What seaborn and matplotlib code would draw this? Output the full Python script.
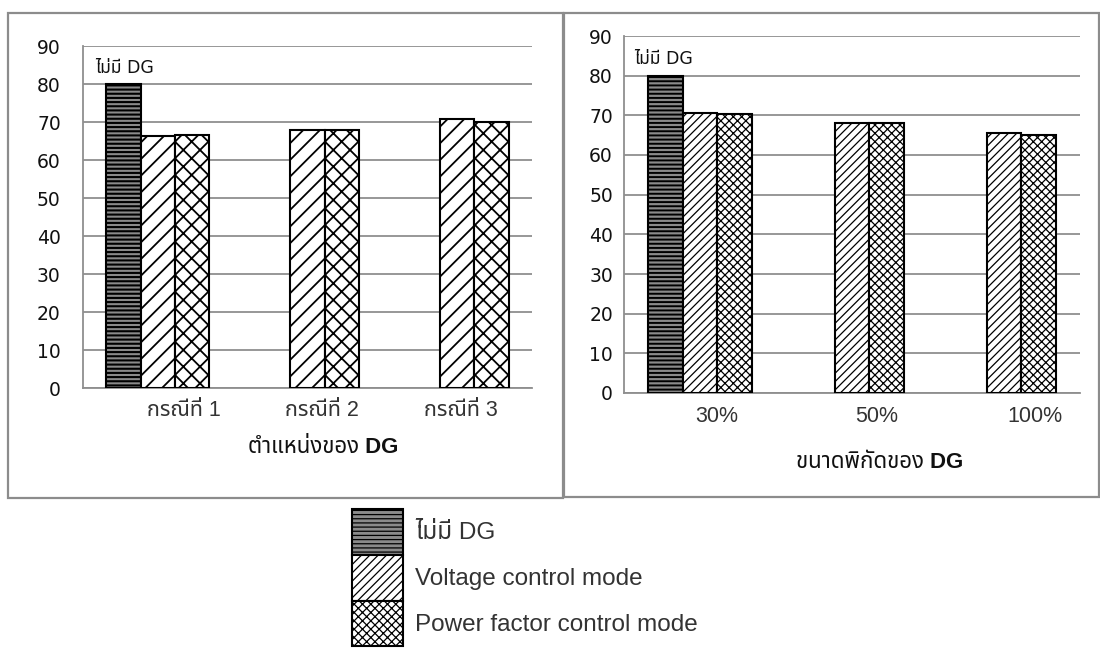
import matplotlib
matplotlib.use("Agg")
import matplotlib.pyplot as plt
import matplotlib.transforms as mtransforms
from matplotlib import font_manager
from matplotlib.patches import Rectangle
import pandas as pd
import seaborn as sns

# ---- data -------------------------------------------------------------
series = ["ไม่มี DG", "Voltage control mode", "Power factor control mode"]

loc_cats = ["กรณีที่ 1", "กรณีที่ 2", "กรณีที่ 3"]
loc_no_dg = [80.0, None, None]
loc_vc = [66.2, 67.8, 70.7]
loc_pf = [66.6, 67.8, 69.9]

size_cats = ["30%", "50%", "100%"]
size_no_dg = [80.0, None, None]
size_vc = [70.7, 68.1, 65.5]
size_pf = [70.3, 68.1, 65.0]

y_ticks = list(range(0, 100, 10))

left_title = "ตำแหน่งของ DG"
right_title = "ขนาดพิกัดของ DG"
note_text = "ไม่มี DG"


def find_thai_family():
    """Return the name of an installed family that covers Thai, if any."""
    try:
        from fontTools.ttLib import TTFont
    except Exception:
        return None
    found = []
    for f in font_manager.fontManager.ttflist:
        try:
            tt = TTFont(f.fname, fontNumber=0, lazy=True)
            cmap = tt.getBestCmap() or {}
            if 0x0E44 in cmap and 0x0E21 in cmap and 0x0E13 in cmap:
                found.append(f.name)
        except Exception:
            continue
    if not found:
        return None
    for pref in ["Noto Sans Thai", "Noto Sans Thai UI", "Loma", "Garuda",
                 "Tlwg Typo", "Sawasdee", "Laksaman", "Norasi"]:
        if pref in found:
            return pref
    return found[0]


def to_frame(cats, no_dg, vc, pf):
    rows = []
    for name, vals in zip(series, [no_dg, vc, pf]):
        for c, v in zip(cats, vals):
            if v is not None:
                rows.append({"cat": c, "series": name, "value": v})
    return pd.DataFrame(rows)


sns.set_style("white")
thai = find_thai_family()
extra = [thai] if thai else []
families = ["Liberation Sans"] + extra + ["DejaVu Sans"]
plt.rcParams["font.family"] = families

fig = plt.figure(figsize=(11, 6.48), dpi=100)
W, H = 1100, 648


def fig_rect(x0, y0, x1, y1):
    return [x0 / W, 1 - y1 / H, (x1 - x0) / W, (y1 - y0) / H]


# frames around each chart
frame_col = "#8c8c8c"
fig.add_artist(Rectangle((8 / W, 1 - 498 / H), (563 - 8) / W, (498 - 13) / H,
                         transform=fig.transFigure, fill=False,
                         edgecolor=frame_col, linewidth=1.6))
fig.add_artist(Rectangle((564 / W, 1 - 497 / H), (1099 - 564) / W, (497 - 13) / H,
                         transform=fig.transFigure, fill=False,
                         edgecolor=frame_col, linewidth=1.6))

ax_l = fig.add_axes(fig_rect(83, 46, 532, 388))
ax_r = fig.add_axes(fig_rect(624, 36, 1080, 393))

styles_left = [("#8a8a8a", "----", 1.5), ("white", "//", 1.3), ("white", "xx", 1.3)]
styles_right = [("#8a8a8a", "----", 1.4), ("white", "////", 0.9), ("white", "xxxx", 0.9)]

grid_col = "#8f8f8f"


def draw_panel(ax, df, cats, styles, title, ytick_pad, tick_shifts, label_xy,
               note_xy):
    plt.rcParams["hatch.linewidth"] = styles[1][2]
    sns.barplot(data=df, x="cat", y="value", hue="series", order=cats,
                hue_order=series, width=0.69, errorbar=None, ax=ax,
                legend=False, saturation=1)
    for cont, (fc, hatch, hlw) in zip(ax.containers, styles):
        for p in cont.patches:
            p.set_facecolor(fc)
            p.set_edgecolor("black")
            p.set_hatch(hatch)
            p.set_linewidth(1.5)
            if hasattr(p, "set_hatch_linewidth"):
                p.set_hatch_linewidth(hlw)
            p.set_zorder(3)
    ax.set_ylim(0, 90)
    ax.set_xlim(-0.5, 2.5)
    ax.set_yticks(y_ticks)
    ax.yaxis.grid(True, color=grid_col, linewidth=1.3, zorder=0)
    ax.set_axisbelow(True)
    for s in ["top", "right"]:
        ax.spines[s].set_visible(False)
    for s in ["left", "bottom"]:
        ax.spines[s].set_color(grid_col)
        ax.spines[s].set_linewidth(1.3)
    ax.tick_params(axis="y", length=0, pad=ytick_pad, labelsize=13.5,
                   labelcolor="#111111")
    for lbl in ax.get_yticklabels():
        lbl.set_fontfamily("DejaVu Sans")
    ax.tick_params(axis="x", length=0, pad=9, labelsize=15.5, labelcolor="#333333")
    ax.set_xticks(range(len(cats)))
    ax.set_xticklabels(cats)
    for lbl, dx in zip(ax.get_xticklabels(), tick_shifts):
        shift = mtransforms.ScaledTranslation(dx / 100, 0, fig.dpi_scale_trans)
        lbl.set_transform(lbl.get_transform() + shift)
    ax.set_ylabel("")
    ax.set_xlabel(title, fontsize=16, fontweight="bold", color="#111111")
    ax.xaxis.set_label_coords(*label_xy)
    ax.xaxis.label.set_va("center")
    ax.text(note_xy[0], note_xy[1], note_text, fontsize=12.5, ha="left",
            va="center", color="#111111", family=["DejaVu Sans"] + extra)
    ax.set_facecolor("white")


draw_panel(ax_l, to_frame(loc_cats, loc_no_dg, loc_vc, loc_pf), loc_cats,
           styles_left, left_title, 16, (26, 14, 4), (0.535, -0.175),
           (-0.42, 84.3))
draw_panel(ax_r, to_frame(size_cats, size_no_dg, size_vc, size_pf), size_cats,
           styles_right, right_title, 8, (17, 25, 31), (0.561, -0.196),
           (-0.43, 84.2))

handles = [cont.patches[0] for cont in ax_r.containers]
fig.legend(handles, series, loc="upper left",
           bbox_to_anchor=(352 / W, 1 - 509 / H), frameon=False,
           fontsize=17.5, handlelength=2.1, handleheight=2.52,
           handletextpad=0.5, labelspacing=0.0, borderpad=0.0,
           borderaxespad=0.0, labelcolor="#333333")

fig.savefig("out.png", dpi=100, facecolor="white")
